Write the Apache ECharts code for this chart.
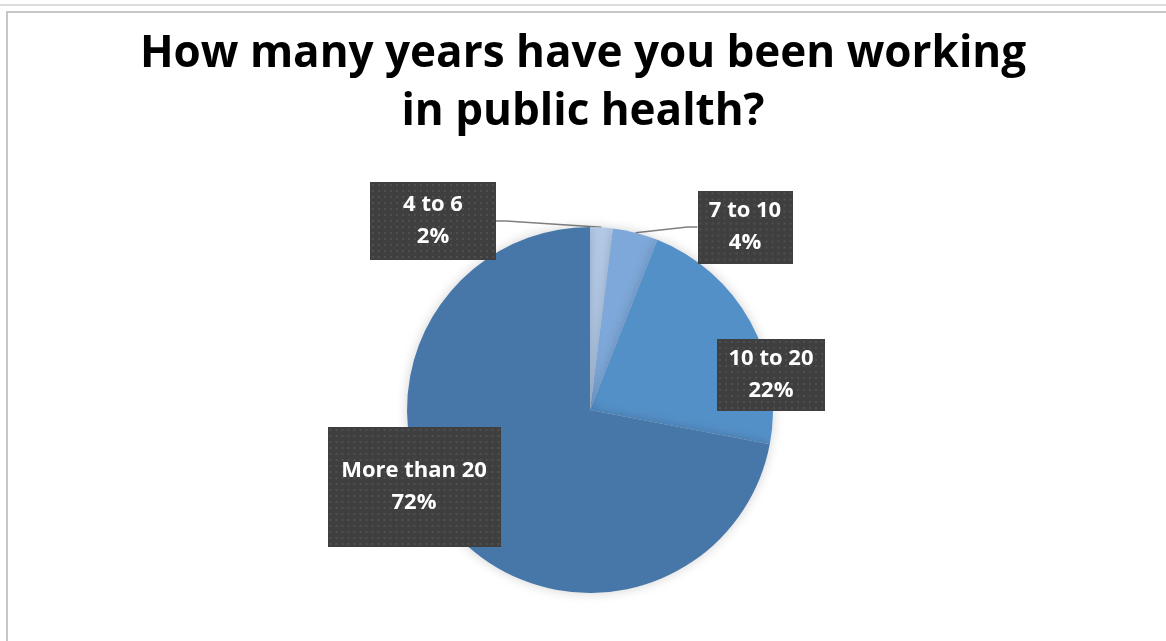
<!DOCTYPE html>
<html>
<head>
<meta charset="utf-8">
<script src="https://cdn.jsdelivr.net/npm/echarts@6/dist/echarts.min.js"></script>
<style>
  html, body { margin: 0; padding: 0; background: #fff; }
  #chart { width: 1166px; height: 641px; }
</style>
</head>
<body>
<div id="chart"></div>
<script>
// data
const categories = ['4 to 6', '7 to 10', '10 to 20', 'More than 20']
const shares = [2, 4, 22, 72]
const sliceColors = ['#b3cae7', '#7ea8d9', '#5490c8', '#4677a8']

// label boxes: size of each dark box and where its centre sits
const boxSizes = [[126, 78], [95, 73], [108, 72], [173, 120]]
const boxCenters = [[433, 221], [745, 227], [771, 375], [414, 487]]
const showLeader = [true, true, false, false]

const chart = echarts.init(document.getElementById('chart'))

// dark dotted texture used behind the labels
function dottedBox(w, h) {
  const c = document.createElement('canvas')
  c.width = w
  c.height = h
  const ctx = c.getContext('2d')
  ctx.fillStyle = '#3f3f3f'
  ctx.fillRect(0, 0, w, h)
  ctx.fillStyle = '#4f4f4f'
  for (let y = 2; y < h; y += 6) {
    for (let x = 2; x < w; x += 6) {
      ctx.fillRect(x, y, 2, 2)
    }
  }
  return c
}

const seriesData = categories.map((name, i) => ({
  name,
  value: shares[i],
  itemStyle: { color: sliceColors[i] },
  label: {
    width: boxSizes[i][0],
    height: boxSizes[i][1],
    backgroundColor: { image: dottedBox(boxSizes[i][0], boxSizes[i][1]) }
  },
  labelLine: { show: showLeader[i] }
}))

const option = {
  animation: false,
  title: {
    text: 'How many years have you been working\nin public health?',
    left: 'center',
    top: 20,
    textStyle: {
      fontFamily: 'Open Sans',
      fontWeight: 'bold',
      fontSize: 44,
      lineHeight: 58,
      color: '#000'
    }
  },
  graphic: [
    {
      type: 'line',
      shape: { x1: 0, y1: 5, x2: 1166, y2: 5 },
      style: { stroke: '#dcdcdc', lineWidth: 2 }
    },
    {
      type: 'rect',
      shape: { x: 7, y: 12, width: 1180, height: 650 },
      style: { fill: 'none', stroke: '#c6c6c6', lineWidth: 2 }
    }
  ],
  series: [
    {
      type: 'pie',
      center: [590, 410],
      radius: 183,
      startAngle: 90,
      clockwise: true,
      data: seriesData,
      itemStyle: {
        shadowBlur: 12,
        shadowColor: 'rgba(0,0,0,0.18)'
      },
      label: {
        show: true,
        position: 'outside',
        formatter: '{b}\n{d}%',
        color: '#fff',
        fontFamily: 'Open Sans',
        fontWeight: 'bold',
        fontSize: 22,
        lineHeight: 32,
        align: 'center',
        verticalAlign: 'middle',
        padding: 0,
        shadowBlur: 6,
        shadowOffsetX: 3,
        shadowOffsetY: 3,
        shadowColor: 'rgba(0,0,0,0.45)'
      },
      labelLine: {
        length: 10,
        length2: 10,
        smooth: false,
        lineStyle: { color: '#7f7f7f', width: 1.5 }
      },
      labelLayout: (params) => {
        const c = boxCenters[params.dataIndex]
        return {
          x: c[0],
          y: c[1],
          align: 'center',
          verticalAlign: 'middle'
        }
      }
    }
  ]
}

chart.setOption(option)
</script>
</body>
</html>
